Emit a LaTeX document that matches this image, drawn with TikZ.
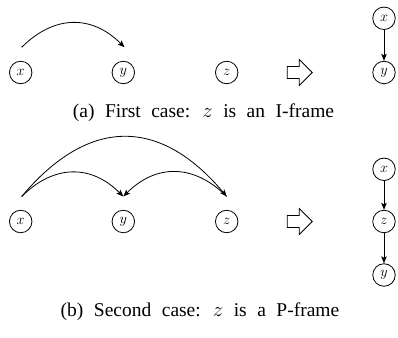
\documentclass[tikz,border=0pt]{standalone}
\usepackage{fontspec}
\setmainfont{Liberation Serif}
\usetikzlibrary{arrows.meta}
\newcommand\mycapfont{\fontsize{19.5}{22}\selectfont\spaceskip=10.5pt\relax}
\begin{document}
\begin{tikzpicture}[x=1pt,y=1pt,
  var/.style={draw,circle,line width=0.8pt,minimum size=22.5pt,inner sep=0pt,font=\fontsize{14.5}{16}\selectfont},
  conn/.style={line width=0.8pt,-{Stealth[length=7pt,width=5.5pt,inset=1.5pt]}},
  bigarrow/.style={draw,line width=0.8pt,fill=white},
  captext/.style={anchor=base,font=\mycapfont}]
\useasboundingbox (0,0) rectangle (398,337);
% (a)
\node[var] (xa) at (20.7,264.5) {$x$};
\node[var] (ya) at (123.3,264.5) {$y$};
\node[var] (za) at (226.7,264.5) {$z$};
\coordinate (xat) at (21.7,289.7);
\coordinate (yat) at (124.5,289.7);
\draw[conn] (xat) to[out=45,in=135,looseness=1.15] (yat);
\draw[bigarrow] (287.3,258.5) -- (299.3,258.5) -- (299.3,251.5) -- (312.3,264.5) -- (299.3,277.5) -- (299.3,270.5) -- (287.3,270.5) -- cycle;
\node[var] (rxa) at (384,318.7) {$x$};
\node[var] (rya) at (384,264.5) {$y$};
\draw[conn] (rxa) -- (rya);
\node[captext] (capa) at (203.5,219.5) {(a) First case: $z$ is an I-frame};
% (b)
\node[var] (xb) at (20.7,115.5) {$x$};
\node[var] (yb) at (123.3,115.5) {$y$};
\node[var] (zb) at (226.7,115.5) {$z$};
\coordinate (xbt) at (21.7,140.5);
\coordinate (ybt) at (123.3,140.5);
\coordinate (zbt) at (226.7,140.5);
\draw[conn] (xbt) to[out=45,in=135,looseness=1.15] (ybt);
\draw[conn] (zbt) to[out=135,in=45,looseness=1.15] (ybt);
\draw[conn] (xbt) to[out=50,in=130,looseness=1.3] (zbt);
\draw[bigarrow] (287.3,109.5) -- (299.3,109.5) -- (299.3,102.5) -- (312.3,115.5) -- (299.3,128.5) -- (299.3,121.5) -- (287.3,121.5) -- cycle;
\node[var] (rxb) at (384,167.7) {$x$};
\node[var] (rzb) at (384,115.5) {$z$};
\node[var] (ryb) at (384,62) {$y$};
\draw[conn] (rxb) -- (rzb);
\draw[conn] (rzb) -- (ryb);
\node[captext] (capb) at (200,21) {(b) Second case: $z$ is a P-frame};
\end{tikzpicture}
\end{document}
